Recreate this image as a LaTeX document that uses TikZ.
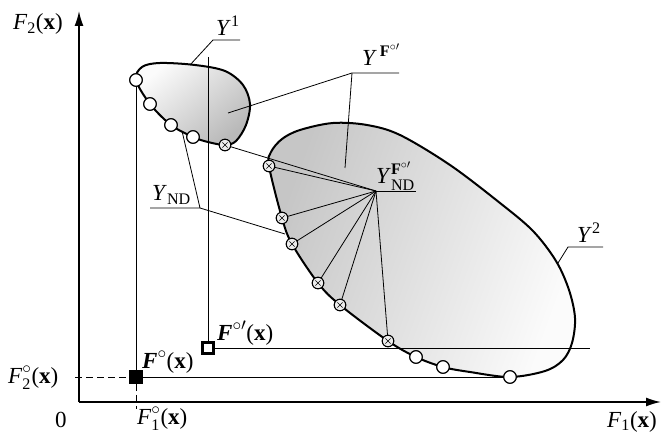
\documentclass[tikz,border=0pt]{standalone}
\usepackage{amsmath}
\usepackage{fontspec}
\setmainfont{Liberation Serif}
\usetikzlibrary{arrows.meta,calc}
\begin{document}
\begin{tikzpicture}[x=1pt,y=-1pt,
  lbl/.style={inner sep=0pt, anchor=base west, font=\fontsize{23}{27}\selectfont},
  thinl/.style={line width=0.8pt},
  outl/.style={line width=2pt, line join=round},
  axisl/.style={line width=1.6pt, -{Latex[length=15pt,width=9pt]}},
  opt/.style={circle, draw, fill=white, line width=1.1pt, minimum size=12.5pt, inner sep=0pt},
  otim/.style={circle, draw, fill=white!93!black, line width=1pt, minimum size=11.5pt, inner sep=0pt,
    path picture={\draw[line width=0.6pt]
      ($(path picture bounding box.center)+(-2.6,-2.6)$) -- ($(path picture bounding box.center)+(2.6,2.6)$)
      ($(path picture bounding box.center)+(-2.6,2.6)$) -- ($(path picture bounding box.center)+(2.6,-2.6)$);}},
  sqf/.style={rectangle, draw, fill=black, line width=1pt, minimum size=12.5pt, inner sep=0pt},
  sqh/.style={rectangle, draw, fill=white, line width=2.2pt, minimum size=11pt, inner sep=0pt},
]
\useasboundingbox (0,0) rectangle (663,435);

\def\yone{(136,80) (142,67) (160,63) (195,65) (225,71) (243,85) (250,104) (246,125) (236,141) (225,145) (208,142) (193,137) (171,125) (150,104)}
\def\ytwo{(269,166) (271,152) (282,139) (300,130) (333,123) (367,125) (400,135) (450,165) (500,203) (533,231) (556,261) (569,290) (575,318) (572,343) (563,360) (545,371) (510,377) (470,372) (443,367) (416,357) (388,341) (340,305) (318,283) (292,244) (282,218)}

% ---------- regions ----------
\shade[top color=gray!3, bottom color=gray!55, shading angle=40]
  plot[smooth cycle, tension=0.55] coordinates {\yone};
\shade[top color=gray!45, bottom color=gray!3, shading angle=70]
  plot[smooth cycle, tension=0.55] coordinates {\ytwo};

% ---------- coordinates ----------
\coordinate (O) at (79,402);
\coordinate (Ytop) at (79,11);
\coordinate (Xend) at (661,402);
\coordinate (C) at (376,191);

% ---------- markers (positions) ----------
\node[opt] (a1) at (136,80) {};
\node[opt] (a2) at (150,104) {};
\node[opt] (a3) at (171,125) {};
\node[opt] (a4) at (193,137) {};
\node[otim] (b0) at (225,145) {};
\node[otim] (b1) at (269,166) {};
\node[otim] (b2) at (282,218) {};
\node[otim] (b3) at (292,244) {};
\node[otim] (b4) at (318,283) {};
\node[otim] (b5) at (340,305) {};
\node[otim] (b6) at (388,341) {};
\node[opt] (c1) at (416,357) {};
\node[opt] (c2) at (443,367) {};
\node[opt] (c3) at (510,377) {};
\node[sqf] (Fo) at (136,377) {};
\node[sqh] (Fop) at (208,348) {};

% ---------- construction lines ----------
\coordinate (vtop) at (208,57);
\coordinate (dl) at (75,377);
\coordinate (db) at (136,409);
\coordinate (hr) at (590,348);
\draw[thinl] (a1.center) -- (Fo.north);
\draw[thinl] (vtop) -- (Fop.north);
\draw[thinl] (Fo.east) -- (c3.center);
\draw[thinl] (Fop.east) -- (hr);
\draw[thinl, dash pattern=on 7pt off 4pt] (dl) -- (Fo.west);
\draw[thinl, dash pattern=on 7pt off 4pt] (Fo.south) -- (db);

% ---------- fan ----------
\foreach \p in {b0,b1,b2,b3,b4,b5,b6} \draw[thinl] (C) -- (\p.center);

% ---------- leaders ----------
\coordinate (u1a) at (213,40); \coordinate (u1b) at (240,40); \coordinate (u1t) at (190,65);
\draw[thinl] (u1t) -- (u1a) -- (u1b);
\coordinate (uFa) at (352,73); \coordinate (uFb) at (399,73);
\coordinate (uFt1) at (228,113); \coordinate (uFt2) at (345,168);
\draw[thinl] (uFt1) -- (uFa) -- (uFb); \draw[thinl] (uFa) -- (uFt2);
\coordinate (uNa) at (150,208); \coordinate (uNb) at (200,208);
\coordinate (uNt1) at (182,131); \coordinate (uNt2) at (285,234);
\draw[thinl] (uNa) -- (uNb) -- (uNt1); \draw[thinl] (uNb) -- (uNt2);
\coordinate (uDb) at (416,191);
\draw[thinl] (C) -- (uDb);
\coordinate (u2a) at (568,247); \coordinate (u2b) at (603,247); \coordinate (u2t) at (558,263);
\draw[thinl] (u2t) -- (u2a) -- (u2b);

% ---------- outlines ----------
\draw[outl] plot[smooth cycle, tension=0.55] coordinates {\yone};
\draw[outl] plot[smooth cycle, tension=0.55] coordinates {\ytwo};

% ---------- markers redrawn on top ----------
\node[opt] (A1) at (a1) {};
\node[opt] (A2) at (a2) {};
\node[opt] (A3) at (a3) {};
\node[opt] (A4) at (a4) {};
\node[otim] (B0) at (b0) {};
\node[otim] (B1) at (b1) {};
\node[otim] (B2) at (b2) {};
\node[otim] (B3) at (b3) {};
\node[otim] (B4) at (b4) {};
\node[otim] (B5) at (b5) {};
\node[otim] (B6) at (b6) {};
\node[opt] (C1) at (c1) {};
\node[opt] (C2) at (c2) {};
\node[opt] (C3) at (c3) {};
\node[sqf] (FoT) at (Fo) {};
\node[sqh] (FopT) at (Fop) {};

% ---------- axes ----------
\draw[axisl] (O) -- (Ytop);
\draw[axisl] (O) -- (Xend);

% ---------- labels ----------
\node[lbl] (lF2) at (13,30) {\textit{F}$_{\textrm{2}}$(\textbf{x})};
\node[lbl] (lF1) at (607,427) {\textit{F}$_{\textrm{1}}$(\textbf{x})};
\node[lbl] (l0) at (55,427) {0};
\node[lbl] (lF1o) at (137,424) {\textit{F}$_{\textrm{1}}^{\circ}$(\textbf{x})};
\node[lbl] (lF2o) at (8,383) {\textit{F}$_{\textrm{2}}^{\circ}$(\textbf{x})};
\node[lbl] (lFo) at (142,368) {\textbf{\textit{F}}$^{\circ}$(\textbf{x})};
\node[lbl] (lFop) at (217,340) {\textbf{\textit{F}}$^{\circ\prime}$(\textbf{x})};
\node[lbl] (lY1) at (216,36) {\textit{Y}$^{\textrm{1}}$};
\node[lbl] (lYF) at (362,66) {\textit{Y}$^{\,\textbf{F}^{\circ\prime}}$};
\node[lbl] (lYND) at (152,201) {\textit{Y}$_{\textrm{ND}}$};
\node[lbl] (lYNDF) at (376,184) {\textit{Y}$^{\textbf{F}^{\circ\prime}}_{\textrm{ND}}$};
\node[lbl] (lY2) at (577,243) {\textit{Y}$^{\textrm{2}}$};
\end{tikzpicture}
\end{document}
